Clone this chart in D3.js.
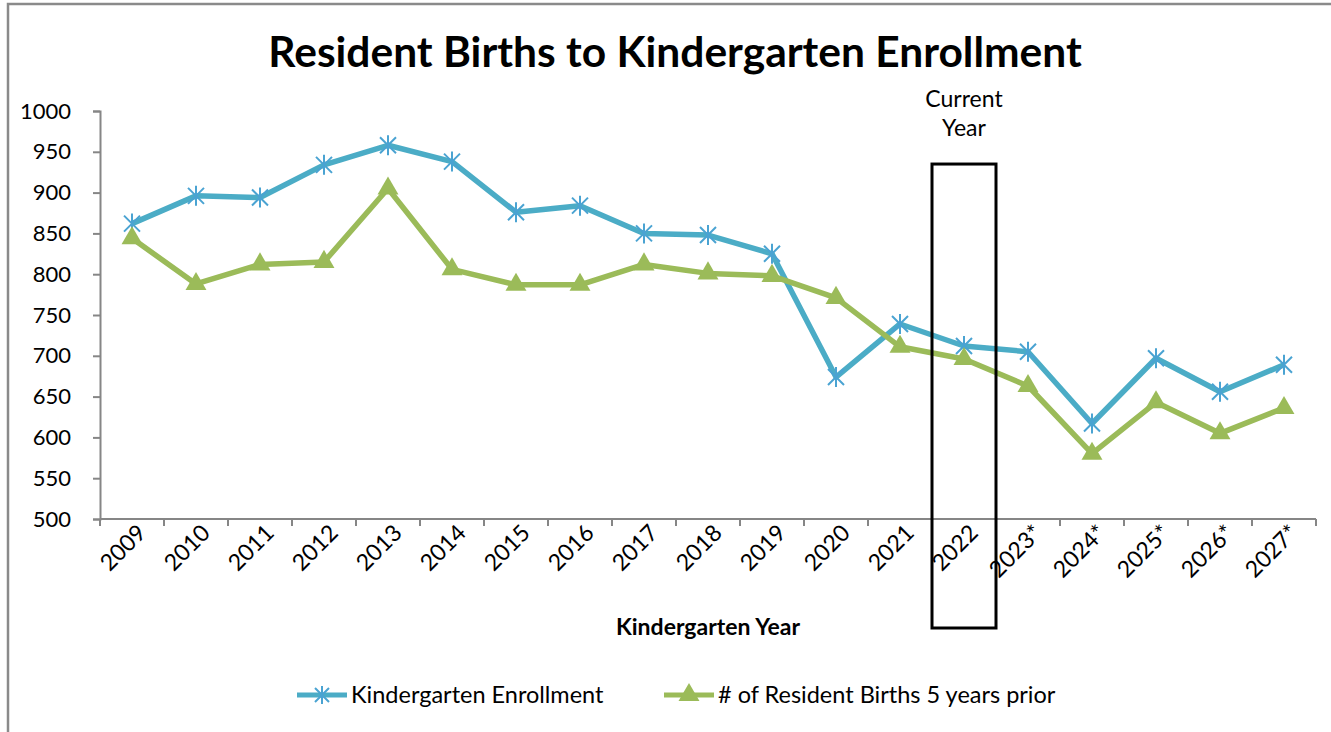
<!DOCTYPE html>
<html>
<head>
<meta charset="utf-8">
<script src="https://cdn.jsdelivr.net/npm/d3@7"></script>
<style>
  body { margin: 0; background: #fff; }
  svg { display: block; font-family: Lato, "Open Sans", sans-serif; }
</style>
</head>
<body>
<svg width="1331" height="732"></svg>
<script>
// chart data
var years = ['2009','2010','2011','2012','2013','2014','2015','2016','2017','2018',
             '2019','2020','2021','2022','2023*','2024*','2025*','2026*','2027*'];
var enrollment = [862, 896, 894, 934, 958, 938, 876, 884, 850, 848,
                  825, 674, 739, 712, 705, 617, 697, 656, 689];
var births = [844, 788, 812, 815, 905, 806, 787, 787, 812, 801,
              798, 771, 711, 696, 663, 580, 643, 605, 636];
var yTicks = [500, 550, 600, 650, 700, 750, 800, 850, 900, 950, 1000];
var currentYear = '2022';
var boxTop = 935;

var blue = '#4bacc6', green = '#9bbb59', axisGrey = '#868686';

var svg = d3.select('svg');

// outer frame
svg.append('rect')
    .attr('x', 8).attr('y', 4)
    .attr('width', 1400).attr('height', 800)
    .attr('fill', 'none')
    .attr('stroke', '#8a8a8a')
    .attr('stroke-width', 2.5);

var plotLeft = 100, plotRight = 1316, plotTop = 111, plotBottom = 519;

var x = d3.scaleBand().domain(years).range([plotLeft, plotRight]);
var y = d3.scaleLinear().domain([500, 1000]).range([plotBottom, plotTop]);
var cx = function(d){ return x(d) + x.bandwidth() / 2; };

// title
svg.append('text')
    .attr('x', 675).attr('y', 67)
    .attr('text-anchor', 'middle')
    .attr('font-weight', 'bold')
    .attr('font-size', 42.5)
    .attr('fill', '#000')
    .text('Resident Births to Kindergarten Enrollment');

// y axis
var yAxis = svg.append('g')
    .attr('transform', 'translate(' + plotLeft + ',0)')
    .call(d3.axisLeft(y).tickValues(yTicks).tickFormat(d3.format('d')).tickSize(7).tickPadding(22));
yAxis.selectAll('path, line').attr('stroke', axisGrey).attr('stroke-width', 2);
yAxis.selectAll('text').attr('font-size', 22).attr('fill', '#000')
    .attr('font-family', 'Lato, sans-serif');

// x axis (ticks at category boundaries, like Excel)
var xAxis = svg.append('g');
xAxis.append('line')
    .attr('x1', plotLeft).attr('x2', plotRight)
    .attr('y1', plotBottom).attr('y2', plotBottom)
    .attr('stroke', axisGrey).attr('stroke-width', 2);
var bounds = years.map(function(d){ return x(d); }).concat([plotRight]);
xAxis.selectAll('line.tick')
    .data(bounds)
    .enter().append('line')
    .attr('class', 'tick')
    .attr('x1', function(d){ return d; }).attr('x2', function(d){ return d; })
    .attr('y1', plotBottom).attr('y2', plotBottom + 7)
    .attr('stroke', axisGrey).attr('stroke-width', 2);
xAxis.selectAll('text')
    .data(years)
    .enter().append('text')
    .attr('transform', function(d){
        return 'translate(' + (cx(d) + 4) + ',' + (plotBottom + 4) + ') rotate(-45)';
    })
    .attr('text-anchor', 'end')
    .attr('dy', '0.7em')
    .attr('font-size', 23)
    .attr('fill', '#000')
    .text(function(d){ return d; });

// axis title
svg.append('text')
    .attr('x', (plotLeft + plotRight) / 2).attr('y', 635)
    .attr('text-anchor', 'middle')
    .attr('font-weight', 'bold')
    .attr('font-size', 23)
    .text('Kindergarten Year');

// lines
var line = d3.line()
    .x(function(d, i){ return cx(years[i]); })
    .y(function(d){ return y(d); });

svg.append('path')
    .datum(enrollment)
    .attr('fill', 'none')
    .attr('stroke', blue)
    .attr('stroke-width', 5.5)
    .attr('stroke-linejoin', 'round')
    .attr('d', line);

svg.append('path')
    .datum(births)
    .attr('fill', 'none')
    .attr('stroke', green)
    .attr('stroke-width', 5.5)
    .attr('stroke-linejoin', 'round')
    .attr('d', line);

// markers
var starPath = 'M-8,-8L8,8M-8,8L8,-8M0,-10L0,10';
svg.selectAll('path.star')
    .data(enrollment)
    .enter().append('path')
    .attr('class', 'star')
    .attr('transform', function(d, i){ return 'translate(' + cx(years[i]) + ',' + y(d) + ')'; })
    .attr('d', starPath)
    .attr('fill', 'none')
    .attr('stroke', '#4aa3d2')
    .attr('stroke-width', 2);

var tri = d3.symbol().type(d3.symbolTriangle).size(190);
svg.selectAll('path.tri')
    .data(births)
    .enter().append('path')
    .attr('class', 'tri')
    .attr('transform', function(d, i){ return 'translate(' + cx(years[i]) + ',' + y(d) + ')'; })
    .attr('d', tri)
    .attr('fill', green);

// current year box
svg.append('rect')
    .attr('x', x(currentYear))
    .attr('y', y(boxTop))
    .attr('width', x.bandwidth())
    .attr('height', 628 - y(boxTop))
    .attr('fill', 'none')
    .attr('stroke', '#000')
    .attr('stroke-width', 3);

var cyLabel = svg.append('text')
    .attr('x', cx(currentYear))
    .attr('text-anchor', 'middle')
    .attr('font-size', 23)
    .attr('fill', '#000');
cyLabel.append('tspan').attr('x', cx(currentYear)).attr('y', 107).text('Current');
cyLabel.append('tspan').attr('x', cx(currentYear)).attr('y', 136).text('Year');

// legend
var legend = [
    {name: 'Kindergarten Enrollment', color: blue, x: 297, marker: 'star'},
    {name: '# of Resident Births 5 years prior', color: green, x: 664, marker: 'tri'}
];
var ly = 695;
var lg = svg.selectAll('g.legend')
    .data(legend)
    .enter().append('g')
    .attr('class', 'legend')
    .attr('transform', function(d){ return 'translate(' + d.x + ',' + ly + ')'; });
lg.append('line')
    .attr('x1', 0).attr('x2', 50)
    .attr('stroke', function(d){ return d.color; })
    .attr('stroke-width', 5);
lg.filter(function(d){ return d.marker === 'star'; })
    .append('path')
    .attr('transform', 'translate(25,0)')
    .attr('d', 'M-7,-7L7,7M-7,7L7,-7M0,-9L0,9')
    .attr('fill', 'none')
    .attr('stroke', '#4aa3d2')
    .attr('stroke-width', 2);
lg.filter(function(d){ return d.marker === 'tri'; })
    .append('path')
    .attr('transform', 'translate(25,0)')
    .attr('d', tri)
    .attr('fill', green);
lg.append('text')
    .attr('x', 54)
    .attr('dy', '0.35em')
    .attr('font-size', 23.5)
    .attr('fill', '#000')
    .text(function(d){ return d.name; });
</script>
</body>
</html>
